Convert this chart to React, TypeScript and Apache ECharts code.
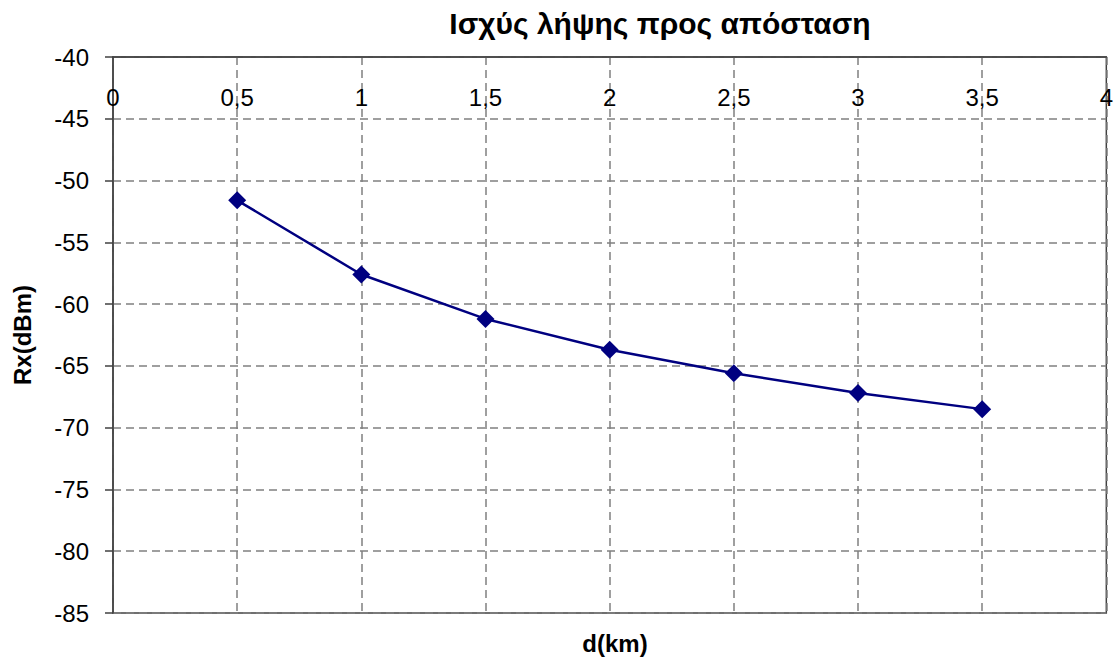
import React, { useEffect, useRef } from "react";
import * as echarts from "echarts";

const distances = [0.5, 1, 1.5, 2, 2.5, 3, 3.5];
const rxPower = [-51.6, -57.6, -61.2, -63.7, -65.6, -67.2, -68.5];
const titleText = "Ισχύς λήψης προς απόσταση";
const xName = "d(km)";
const yName = "Rx(dBm)";

export default function App() {
  const ref = useRef<HTMLDivElement>(null);
  useEffect(() => {
    if (!ref.current) return;
    const chart = echarts.init(ref.current, null, { renderer: "svg" });
    const font = "Liberation Sans, Arial, sans-serif";
    chart.setOption({
      animation: false,
      backgroundColor: "#ffffff",
      title: [
        {
          text: titleText,
          left: 655,
          top: 3,
          textAlign: "center",
          textStyle: { fontFamily: font, fontSize: 30, fontWeight: "bold", color: "#000" },
        },
        {
          text: xName,
          left: 610,
          top: 626,
          textAlign: "center",
          textStyle: { fontFamily: font, fontSize: 24, fontWeight: "bold", color: "#000" },
        },
      ],
      grid: {
        left: 113,
        right: 5,
        top: 57,
        bottom: 48,
        show: true,
        borderColor: "#404040",
        borderWidth: 1.5,
        backgroundColor: "#ffffff",
      },
      xAxis: {
        type: "value",
        min: 0,
        max: 4,
        interval: 0.5,
        position: "top",
        axisLine: { show: true, lineStyle: { color: "#404040", width: 1.5 } },
        axisTick: { show: false },
        axisLabel: {
          inside: true,
          margin: 28,
          showMinLabel: true,
          showMaxLabel: true,
          fontFamily: font,
          fontSize: 24,
          color: "#000",
          formatter: (v: number) => String(v).replace(".", ","),
        },
        splitLine: { show: true, lineStyle: { color: "#808080", type: [8, 5], width: 1.5 } },
      },
      yAxis: {
        type: "value",
        min: -85,
        max: -40,
        interval: 5,
        name: yName,
        nameLocation: "middle",
        nameGap: 79,
        nameTextStyle: { fontFamily: font, fontSize: 24, fontWeight: "bold", color: "#000" },
        axisLine: { show: true, lineStyle: { color: "#404040", width: 1.5 } },
        axisTick: { show: true, length: 8, inside: false, lineStyle: { color: "#404040", width: 1.5 } },
        axisLabel: { margin: 24, fontFamily: font, fontSize: 24, color: "#000" },
        splitLine: { show: true, lineStyle: { color: "#808080", type: [8, 5], width: 1.5 } },
      },
      series: [
        {
          type: "line",
          data: distances.map((d, i) => [d, rxPower[i]]),
          symbol: "diamond",
          symbolSize: 18,
          itemStyle: { color: "#000080" },
          lineStyle: { color: "#000080", width: 2.5 },
        },
      ],
    });
    return () => chart.dispose();
  }, []);
  return <div ref={ref} style={{ width: 1116, height: 661, position: "absolute", left: 0, top: 0 }} />;
}
